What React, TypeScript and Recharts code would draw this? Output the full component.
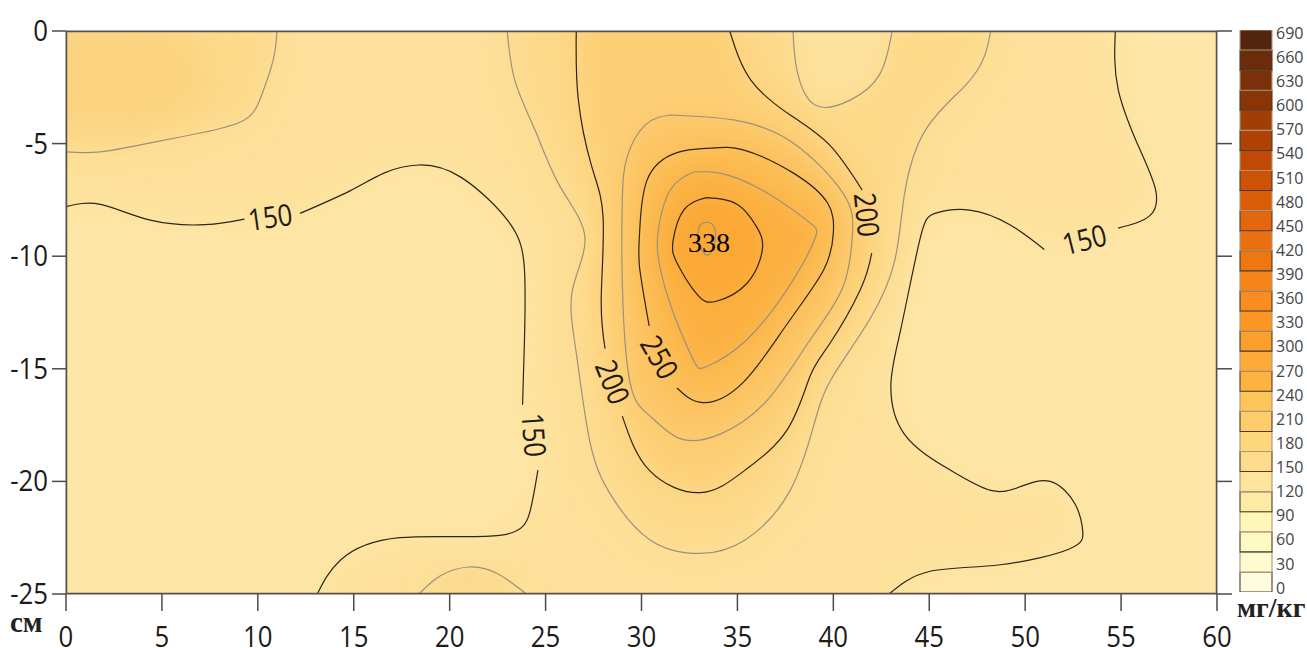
import { Bar, BarChart, Scatter, ScatterChart, XAxis, YAxis } from 'recharts';

type Pt = [number, number];

const xTicks = [0, 5, 10, 15, 20, 25, 30, 35, 40, 45, 50, 55, 60];
const yTicks = [0, -5, -10, -15, -20, -25];
const legendTicks = [0, 30, 60, 90, 120, 150, 180, 210, 240, 270, 300, 330, 360, 390, 420, 450, 480, 510, 540, 570, 600, 630, 660, 690];

const bandColors = ['#fffde0', '#fffbd0', '#fff9c4', '#fff6b8', '#fee9a5', '#fee39b', '#fedc8c', '#fed67c', '#fecc68', '#fec558', '#feb23f', '#fdaa38', '#fd9f2c', '#fb9524', '#f98d1f', '#f58518', '#ee7712', '#ea6f10', '#e4660e', '#db5d0a', '#cc5207', '#c04a05', '#b04205', '#a33d06', '#8a3508', '#7a3008', '#6c2c0b', '#54250e'];

// contour traces, in cm
const topLeft: Pt[] = [[0, -5.37], [1.8, -5.37], [4.4, -4.97], [7, -4.53], [9.3, -3.95], [10.2, -2.84], [10.8, -1.29], [11, 0]];
const left150a: Pt[] = [[0, -7.8], [1.8, -7.7], [4.4, -8.4], [7.25, -8.6], [9.3, -8.35]];
const left150b: Pt[] = [[12.2, -8.1], [14.8, -7.1], [16.6, -6.3], [18.4, -5.95], [20.6, -6.5], [23.1, -8.5], [23.9, -10.6], [23.9, -13.7], [23.8, -16.6]];
const left150c: Pt[] = [[24.6, -19.5], [24.2, -21.3], [22.6, -22.4], [17.4, -22.5], [14.3, -23.5], [13.1, -25]];
const bottomBump: Pt[] = [[18.4, -25], [19.5, -24.2], [21, -23.8], [22.5, -24.1], [24, -25]];
const outer180: Pt[] = [[23, 0], [23.4, -2.2], [24.45, -4.4], [25.75, -6.9], [27.05, -9.15], [26.4, -11.5], [26.6, -14.3], [27.3, -18.2], [28.4, -20.6], [30.45, -22.6], [33.05, -23.2], [35.4, -22.6], [37.75, -20.4], [39.05, -17.3], [40, -15.3], [41.9, -12.8], [43.2, -10.2], [43.7, -7.3], [44.8, -4.4], [46.9, -2.4], [47.9, -1.07], [48.2, 0]];
const pocket: Pt[] = [[37.9, 0], [38.1, -1.73], [39.05, -3.29], [40.9, -3.06], [42.4, -1.95], [43.07, 0]];
const c200a: Pt[] = [[26.6, 0], [26.7, -3], [27.4, -6], [28, -8.3], [27.9, -11.9], [28.1, -14.1]];
const c200b: Pt[] = [[29, -17.1], [30.4, -19.5], [33.05, -20.5], [35.4, -19.5], [37.6, -17.7], [38.8, -15.3], [39.8, -13.9], [41.4, -11.5], [42, -9.86]];
const c200c: Pt[] = [[41.5, -7.06], [39.8, -5.06], [37.75, -3.73], [35.7, -2.18], [34.6, 0]];
const ring225: Pt[] = [[31.5, -3.73], [34.8, -3.95], [37.9, -4.97], [40.5, -7.2], [41, -8.97], [40.5, -11.37], [38.8, -13.7], [36.55, -16.4], [34.1, -17.9], [32, -18.1], [30.45, -17.1], [29.4, -15.6], [29, -11.2], [29, -7.5], [29.25, -5.6], [30.2, -4.17]];
const c250: Pt[] = [[30.4, -13.1], [29.9, -10.5], [29.9, -8.97], [30.3, -6.6], [31.85, -5.4], [33.6, -5.2], [35.3, -5.28], [37.9, -6.3], [39.7, -7.64], [40, -8.97], [39.5, -10.6], [37.6, -13], [35.3, -15.6], [33.2, -16.5], [31.85, -15.85]];
const ring275: Pt[] = [[32.7, -6.26], [34.5, -6.4], [36.9, -7.37], [38.8, -8.53], [39.05, -9.2], [37.9, -11.06], [35.5, -13.7], [33.4, -14.9], [32.7, -14.6], [31.65, -12.5], [30.9, -10.2], [30.9, -8.7], [31.5, -7.06]];
const c300: Pt[] = [[33.4, -7.4], [35, -7.7], [36, -8.7], [36.3, -9.7], [35.5, -11.2], [33.9, -12], [32.9, -11.7], [31.85, -10.3], [31.65, -9.3], [32.2, -7.95]];
const peak: Pt[] = [[33.05, -8.6], [33.5, -8.5], [33.85, -8.9], [33.7, -9.7], [33.3, -9.9], [32.95, -9.2]];
const right150a: Pt[] = [[42.9, -25], [45, -24], [48.7, -23.7], [52.3, -23], [53, -22.2], [52.6, -21], [51.3, -20], [49.7, -20.25], [48.2, -20.4], [46.1, -19.5], [43.7, -17.9], [43, -15.7], [43.5, -13.3], [44.5, -9.3], [45.3, -8.1], [47.1, -7.95], [49.2, -8.6], [51, -9.7]];
const right150b: Pt[] = [[54.85, -8.75], [56.5, -8.2], [56.8, -7.06], [56, -5.3], [54.85, -2.6], [54.7, 0]];
const frame: Pt[] = [[0, 0], [60, 0], [60, -25], [0, -25], [0, 0]];

const contourLabels = [
  { x: 10.65, y: -8.3, text: '150', angle: -8 },
  { x: 24.35, y: -17.94, text: '150', angle: 86 },
  { x: 28.45, y: -15.6, text: '200', angle: 68 },
  { x: 30.9, y: -14.5, text: '250', angle: 60 },
  { x: 41.7, y: -8.17, text: '200', angle: 84 },
  { x: 53.1, y: -9.3, text: '150', angle: -14 },
];

const toRows = (pts: Pt[]) => pts.map(([x, y]) => ({ x, y }));
const closed = (pts: Pt[]) => [...pts, pts[0]];

const DARK = '#2e2419';
const GREY = '#9b917c';

const lines: { pts: Pt[]; color: string }[] = [
  { pts: topLeft, color: GREY },
  { pts: left150a, color: DARK },
  { pts: left150b, color: DARK },
  { pts: left150c, color: DARK },
  { pts: bottomBump, color: GREY },
  { pts: outer180, color: GREY },
  { pts: pocket, color: GREY },
  { pts: c200a, color: DARK },
  { pts: c200b, color: DARK },
  { pts: c200c, color: DARK },
  { pts: closed(ring225), color: GREY },
  { pts: c250, color: DARK },
  { pts: closed(ring275), color: GREY },
  { pts: closed(c300), color: DARK },
  { pts: closed(peak), color: GREY },
  { pts: right150a, color: DARK },
  { pts: right150b, color: DARK },
];

// filled regions under the contours, blurred so that the shading looks continuous
const fills: { pts: Pt[]; color: string; blur: number }[] = [
  { pts: [[-3, 3], [63, 3], [63, -28], [-3, -28]], color: '#fee6a8', blur: 0 },
  { pts: [[-3, -7.8], ...left150a, ...left150b, ...left150c, [13.1, -28], [42.9, -28], ...right150a, ...right150b, [54.7, 3], [-3, 3]], color: '#fde19a', blur: 18 },
  { pts: [[-3, -5.37], ...topLeft, [11, 3], [-3, 3]], color: '#fdd98a', blur: 14 },
  { pts: [[-2, 0], [6, 0], [7.5, -2.5], [5, -4.2], [-2, -4]], color: '#fcd27e', blur: 18 },
  { pts: bottomBump, color: '#fcd88a', blur: 10 },
  { pts: [...outer180, [48.2, 3], [23, 3]], color: '#fdd98a', blur: 16 },
  { pts: [...c200a, ...c200b, ...c200c, [34.6, 3], [26.6, 3]], color: '#fdcf74', blur: 16 },
  { pts: [...pocket, [43.07, 3], [37.9, 3]], color: '#fde29c', blur: 10 },
  { pts: ring225, color: '#fcc565', blur: 14 },
  { pts: c250, color: '#fcba50', blur: 14 },
  { pts: ring275, color: '#fbb041', blur: 12 },
  { pts: c300, color: '#fba836', blur: 10 },
];

const blurIds = [10, 12, 14, 16, 18];

const fillLayer = (color: string, blur: number) => (props: any) => {
  const pts = (props.points || []) as { x: number; y: number }[];
  const d = pts.map((p, i) => `${i ? 'L' : 'M'}${p.x},${p.y}`).join(' ') + ' Z';
  return <path d={d} fill={color} stroke="none" filter={blur ? `url(#blur${blur})` : undefined} />;
};

const noDot = () => null;
const noTickText = () => <g />;

// the reference digits are tall and narrow, so Open Sans gets squeezed a bit
const narrowText = { fontSize: 30, fontFamily: "'Open Sans'", fill: '#1f1a15' };

const LabelMark = (props: any) => {
  const { cx, cy, payload } = props;
  return (
    <g transform={`translate(${cx},${cy}) rotate(${payload.angle}) scale(0.86,1)`}>
      <text textAnchor="middle" dy={10} {...narrowText}>{payload.text}</text>
    </g>
  );
};

const XTick = (props: any) => (
  <g transform={`translate(${props.x},${props.y}) scale(0.86,1)`}>
    <text textAnchor="middle" y={36} {...narrowText}>{props.payload.value}</text>
  </g>
);

const YTick = (props: any) => (
  <g transform={`translate(${props.x},${props.y}) scale(0.86,1)`}>
    <text textAnchor="end" y={10} {...narrowText}>{props.payload.value}</text>
  </g>
);

const tickLineStyle = { stroke: '#4f4a44', strokeWidth: 1.5 };

const bandRow = [Object.fromEntries(bandColors.map((_, i) => [`b${i}`, 25]))];

function Legend() {
  return (
    <BarChart
      width={100}
      height={612}
      data={bandRow}
      margin={{ top: 30, right: 0, bottom: 20, left: 0 }}
      barCategoryGap={0}
      style={{ position: 'absolute', left: 1207, top: 0 }}
    >
      <XAxis dataKey={() => 'c'} hide padding={{ left: 33, right: 0 }} />
      <YAxis yAxisId="bands" hide domain={[0, 700]} allowDataOverflow />
      <YAxis
        yAxisId="labels"
        orientation="right"
        type="number"
        width={35}
        domain={[-5, 694]}
        ticks={legendTicks}
        interval={0}
        axisLine={false}
        tickLine={false}
        tickSize={0}
        tickMargin={4}
        tick={{ fontSize: 16, fontFamily: "'Open Sans'", fill: '#444' }}
        allowDataOverflow
      />
      {bandColors.map((c, i) => (
        <Bar
          key={c}
          yAxisId="bands"
          dataKey={`b${i}`}
          stackId="a"
          fill={c}
          stroke={i % 2 ? '#a8977a' : '#4d3b2a'}
          strokeWidth={1.1}
          isAnimationActive={false}
        />
      ))}
    </BarChart>
  );
}

export default function App() {
  return (
    <div style={{ position: 'absolute', left: 0, top: 0, width: 1307, height: 648, background: '#fff', overflow: 'hidden' }}>
      <ScatterChart width={1307} height={648} margin={{ top: 0, right: 75, bottom: 0, left: 0 }}>
        <defs>
          {blurIds.map((b) => (
            <filter key={b} id={`blur${b}`} x="-40%" y="-40%" width="180%" height="180%">
              <feGaussianBlur stdDeviation={b} />
            </filter>
          ))}
        </defs>
        <XAxis
          type="number"
          dataKey="x"
          domain={[0, 60]}
          ticks={xTicks}
          interval={0}
          height={54}
          tickSize={17}
          tickMargin={0}
          tickLine={tickLineStyle}
          stroke="#55504a"
          tick={XTick}
          allowDataOverflow
        />
        <XAxis xAxisId="top" orientation="top" type="number" domain={[0, 60]} ticks={xTicks} interval={0} height={31} tickSize={17} tickLine={tickLineStyle} tick={noTickText} stroke="#55504a" allowDataOverflow />
        <YAxis
          type="number"
          dataKey="y"
          domain={[-25, 0]}
          ticks={yTicks}
          interval={0}
          width={66}
          tickSize={14}
          tickMargin={4}
          tickLine={tickLineStyle}
          stroke="#55504a"
          tick={YTick}
          allowDataOverflow
        />
        <YAxis yAxisId="right" orientation="right" type="number" domain={[-25, 0]} ticks={yTicks} interval={0} width={15} tickSize={15} tickLine={tickLineStyle} tick={noTickText} stroke="#6b665f" allowDataOverflow />
        {fills.map((f, i) => (
          <Scatter key={`f${i}`} data={toRows(f.pts)} line={fillLayer(f.color, f.blur)} shape={noDot} isAnimationActive={false} />
        ))}
        {lines.map((l, i) => (
          <Scatter
            key={`l${i}`}
            data={toRows(l.pts)}
            line={{ stroke: l.color, strokeWidth: 1.2 }}
            lineJointType="natural"
            shape={noDot}
            isAnimationActive={false}
          />
        ))}
        <Scatter data={toRows(frame)} line={{ stroke: '#55504a', strokeWidth: 2.5 }} shape={noDot} isAnimationActive={false} />
        <Scatter data={contourLabels} shape={LabelMark} isAnimationActive={false} />
      </ScatterChart>
      <Legend />
      <div style={{ position: 'absolute', left: 688, top: 227, font: "28px 'Liberation Serif'", color: '#000' }}>338</div>
      <div style={{ position: 'absolute', left: 10, top: 606, font: "bold 29px 'Liberation Serif'", color: '#222' }}>см</div>
      <div style={{ position: 'absolute', left: 1237, top: 592, font: "bold 28px 'Liberation Serif'", color: '#222' }}>мг/кг</div>
    </div>
  );
}
